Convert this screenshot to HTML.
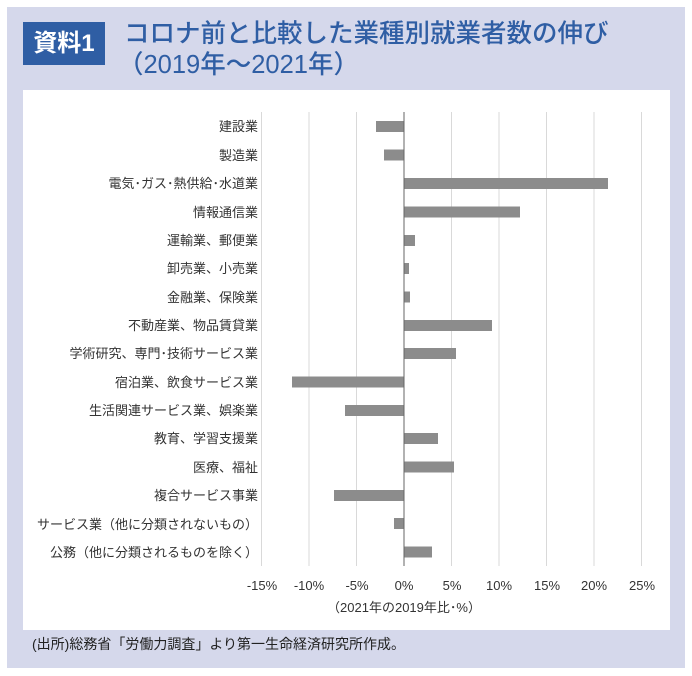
<!DOCTYPE html>
<html><head><meta charset="utf-8"><style>
body{margin:0;width:692px;height:676px;background:#fff;font-family:"Liberation Sans","Noto Sans CJK JP",sans-serif;position:relative;overflow:hidden}
.bg{position:absolute;left:7px;top:7px;width:678px;height:661px;background:#d5d8eb}
.tag{position:absolute;left:23px;top:22px;width:82px;height:43px;background:#2f5ea4;color:#fff;font-size:24px;font-weight:bold;line-height:43px;text-align:center}
.title{position:absolute;left:124px;top:19px;color:#2f5ea4;font-size:25.5px;line-height:31px;font-weight:500;white-space:nowrap}
.panel{position:absolute;left:23px;top:90px;width:647px;height:540px;background:#fff}
.src{position:absolute;left:32px;top:634px;font-size:14px;color:#222}
</style></head><body>
<div class="bg"></div>
<div class="tag">資料1</div>
<div class="title">コロナ前と比較した業種別就業者数の伸び<br><span style="margin-left:-6px">（2019年～2021年）</span></div>
<div class="panel"></div>
<svg style="position:absolute;left:0;top:0" width="692" height="676" font-family="Liberation Sans, Noto Sans CJK JP, sans-serif">
<g stroke="#d9d9d9" stroke-width="1">
<line x1="261.5" y1="112" x2="261.5" y2="566"/><line x1="309" y1="112" x2="309" y2="566"/><line x1="356.5" y1="112" x2="356.5" y2="566"/><line x1="451.5" y1="112" x2="451.5" y2="566"/><line x1="499" y1="112" x2="499" y2="566"/><line x1="546.5" y1="112" x2="546.5" y2="566"/><line x1="594" y1="112" x2="594" y2="566"/><line x1="641.5" y1="112" x2="641.5" y2="566"/>
</g>
<g fill="#8c8c8c">
<rect x="376" y="121" width="28" height="11"/>
<rect x="384" y="149.5" width="20" height="11"/>
<rect x="404" y="178" width="204" height="11"/>
<rect x="404" y="206.5" width="116" height="11"/>
<rect x="404" y="235" width="11" height="11"/>
<rect x="404" y="263" width="5" height="11"/>
<rect x="404" y="291.5" width="6" height="11"/>
<rect x="404" y="320" width="88" height="11"/>
<rect x="404" y="348" width="52" height="11"/>
<rect x="292" y="376.5" width="112" height="11"/>
<rect x="345" y="405" width="59" height="11"/>
<rect x="404" y="433" width="34" height="11"/>
<rect x="404" y="461.5" width="50" height="11"/>
<rect x="334" y="490" width="70" height="11"/>
<rect x="394" y="518" width="10" height="11"/>
<rect x="404" y="546.5" width="28" height="11"/>
</g>
<line x1="404" y1="112" x2="404" y2="566" stroke="#666" stroke-width="1"/>
<g font-size="13" fill="#333" text-anchor="end">
<text x="258" y="131">建設業</text>
<text x="258" y="160">製造業</text>
<text x="258" y="188">電気･ガス･熱供給･水道業</text>
<text x="258" y="217">情報通信業</text>
<text x="258" y="245">運輸業、郵便業</text>
<text x="258" y="273">卸売業、小売業</text>
<text x="258" y="302">金融業、保険業</text>
<text x="258" y="330">不動産業、物品賃貸業</text>
<text x="258" y="358">学術研究、専門･技術サービス業</text>
<text x="258" y="387">宿泊業、飲食サービス業</text>
<text x="258" y="415">生活関連サービス業、娯楽業</text>
<text x="258" y="443">教育、学習支援業</text>
<text x="258" y="472">医療、福祉</text>
<text x="258" y="500">複合サービス事業</text>
<text x="258" y="529">サービス業（他に分類されないもの）</text>
<text x="258" y="557">公務（他に分類されるものを除く）</text>
</g>
<g font-size="13" fill="#333" text-anchor="middle">
<text x="262" y="590">-15%</text><text x="309" y="590">-10%</text><text x="357" y="590">-5%</text><text x="404" y="590">0%</text><text x="452" y="590">5%</text><text x="499" y="590">10%</text><text x="547" y="590">15%</text><text x="594" y="590">20%</text><text x="642" y="590">25%</text>
<text x="404" y="612">（2021年の2019年比･%）</text>
</g>
</svg>
<div class="src">(出所)総務省「労働力調査」より第一生命経済研究所作成。</div>
</body></html>
